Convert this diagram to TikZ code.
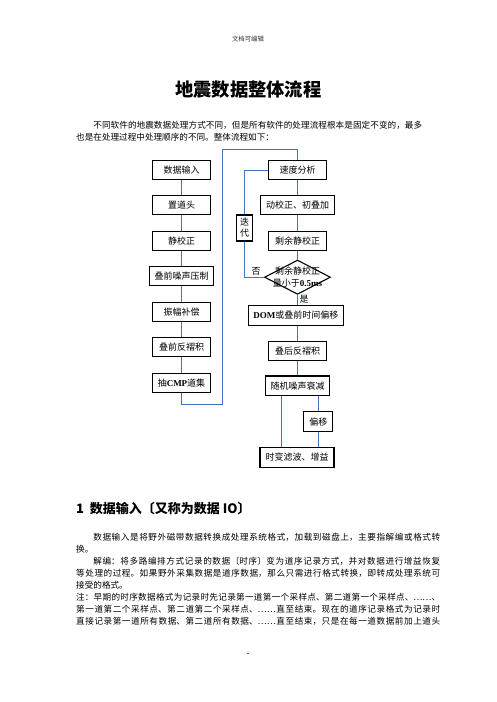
\documentclass[tikz,border=0pt]{standalone}
\usepackage{fontspec}
\setmainfont{Noto Sans CJK SC}
\newfontfamily\tnr{Liberation Serif}
\usetikzlibrary{shapes.geometric}
\XeTeXlinebreaklocale "zh"
\XeTeXlinebreakskip=0pt plus 1pt
\definecolor{lnblue}{HTML}{4472C4}
\newcommand\fixh{\vrule height 8pt width 0pt depth 0pt}
\newcommand\lat[1]{{\tnr\bfseries #1}}
\tikzset{
  fbox/.style={draw=black, line width=1.1pt, inner sep=0pt, font=\fontsize{9}{11}\selectfont, minimum height=19pt, minimum width=58.4pt},
  conn/.style={draw=lnblue, line width=0.9pt},
  body/.style={inner sep=0pt, anchor=north west, align=justify},
  lbl/.style={inner sep=0pt, font=\fontsize{9}{11}\selectfont},
}
\begin{document}
\begin{tikzpicture}[x=1pt,y=-1pt]
\fill[white] (0,0) rectangle (496,702);
\useasboundingbox (0,0) rectangle (496,702);

% header and title
\node[inner sep=0pt, text=black!80, font=\fontsize{6.4}{8}\selectfont] (hdr) at (248,39.3) {文档可编辑};
\node[inner sep=0pt, font=\bfseries\fontsize{18.3}{22}\selectfont] (title) at (248.3,90) {地震数据整体流程};

% paragraph 1
\node[body, text width=346pt, font=\fontsize{8.6}{12.3}\selectfont] (p1) at (76,120.3) {\fixh\hspace*{2em}不同软件的地震数据处理方式不同，但是所有软件的处理流程根本是固定不变的，最多\break 也是在处理过程中处理顺序的不同。整体流程如下：};

% left column
\node[fbox] (in)   at (181.5,170)   {数据输入};
\node[fbox] (zdt)  at (181.5,205.4) {置道头};
\node[fbox] (jjz)  at (181.5,240.8) {静校正};
\node[fbox, minimum width=64pt] (dqzs) at (181.5,276.3) {叠前噪声压制};
\node[fbox] (zfbc) at (181.5,311.6) {振幅补偿};
\node[fbox] (dqfz) at (181.5,347)   {叠前反褶积};
\node[fbox] (cmp)  at (181.5,382.6) {抽\lat{CMP}道集};

% right column
\node[fbox] (sdfx) at (297.5,170)   {速度分析};
\node[fbox, minimum width=74.3pt] (dxz) at (297.5,205.4) {动校正、初叠加};
\node[fbox] (syjjz) at (297.5,240.7) {剩余静校正};
\node[draw=black, line width=1.1pt, shape=diamond, minimum width=66pt, minimum height=34.3pt, inner sep=0pt] (dia) at (297.5,277.2) {};
\node[inner sep=0pt, align=center, font=\fontsize{9}{11.6}\selectfont] (diat) at (dia.center) {剩余静校正\\量小于\lat{0.5ms}};
\node[fbox, minimum width=95pt, minimum height=19.3pt] (dom) at (295.8,315.4) {\lat{DOM}或叠前时间偏移};
\node[fbox] (dhfz) at (297.5,350.7) {叠后反褶积};
\node[fbox, minimum width=64.3pt, minimum height=19.7pt] (sjzs) at (297.5,385.8) {随机噪声衰减};
\node[fbox, minimum width=29pt, minimum height=20pt] (py) at (318.3,421.7) {偏移};
\node[fbox, minimum width=74pt, minimum height=20pt] (sbl) at (297,457.3) {时变滤波、增益};
\node[fbox, minimum width=16pt, minimum height=26pt, align=center, font=\fontsize{9}{11}\selectfont] (dd) at (244.7,228) {迭\\代};

\node[lbl] (no)  at (256,271.7) {否};
\node[lbl] (yes) at (304,299.3) {是};

% connectors left
\draw[conn] (in) -- (zdt);
\draw[conn] (zdt) -- (jjz);
\draw[conn] (jjz) -- (dqzs);
\draw[conn] (dqzs) -- (zfbc);
\draw[conn] (zfbc) -- (dqfz);
\draw[conn] (dqfz) -- (cmp);
\coordinate (c1) at (222.3,404.3);
\coordinate (c2) at (222.3,149);
\draw[conn] (cmp.south) |- (c1) -- (c2) -| (sdfx.north);

% connectors right
\draw[conn] (sdfx) -- (dxz);
\draw[conn] (dxz) -- (syjjz);
\draw[conn] (syjjz.south) -- (dia.north);
\draw[conn] (dia.south) -- (dia.south |- dom.north);
\draw[conn] (dom.south -| dhfz.north) -- (dhfz.north);
\draw[conn] (dhfz) -- (sjzs);
\draw[conn] ([xshift=-15.8pt]sjzs.south) -- ([xshift=-15.8pt]sjzs.south |- sbl.north);
\draw[conn] (sjzs.south -| py.north) -- (py.north);
\draw[conn] (py.south) -- (py.south |- sbl.north);
\draw[conn] (dia.west) -| (dd.south);
\draw[conn] (dd.north) |- (sdfx.west);

% section heading
\node[inner sep=0pt, anchor=west, font=\bfseries\fontsize{13}{15}\selectfont] (h1) at (76,508.3) {1\hspace{0.45em}数据输入〔又称为数据 IO〕};

% body
\node[body, text width=364pt, font=\fontsize{8.6}{12}\selectfont] (p2) at (76,532.6) {\fixh\hspace*{2em}数据输入是将野外磁带数据转换成处理系统格式，加载到磁盘上，主要指解编或格式转\break 换。\par
\hspace*{2em}解编：将多路编排方式记录的数据〔时序〕变为道序记录方式，并对数据进行增益恢复\break 等处理的过程。如果野外采集数据是道序数据，那么只需进行格式转换，即转成处理系统可\break 接受的格式。\par
注：早期的时序数据格式为记录时先记录第一道第一个采样点、第二道第一个采样点、……、\break 第一道第二个采样点、第二道第二个采样点、……直至结束。现在的道序记录格式为记录时\break 直接记录第一道所有数据、第二道所有数据、……直至结束，只是在每一道数据前加上道头\parfillskip=0pt\par};

\node[inner sep=0pt, font=\fontsize{8.6}{10}\selectfont] (pg) at (248,655) {-};
\end{tikzpicture}
\end{document}
